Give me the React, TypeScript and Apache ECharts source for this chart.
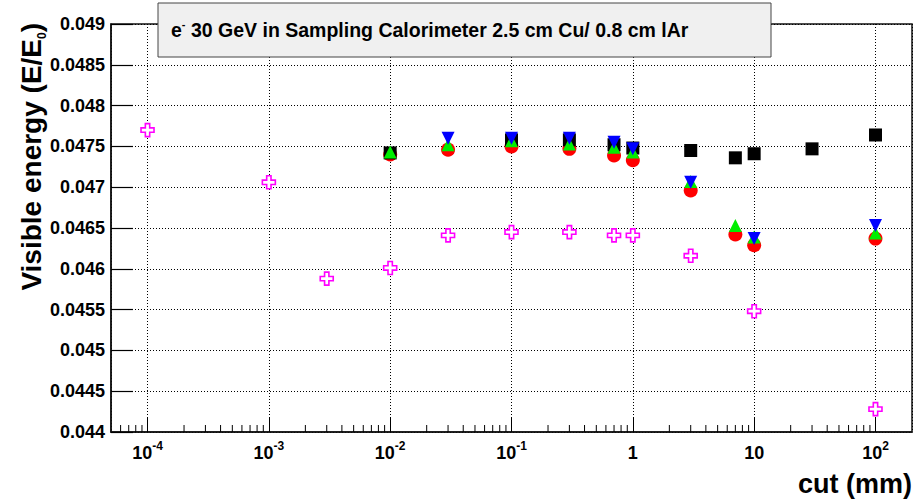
import { useEffect, useRef } from 'react';
import * as echarts from 'echarts';

// Production cut (mm) and visible energy fraction for each configuration
const blackCut = [0.01, 0.1, 0.3, 0.7, 1, 3, 7, 10, 30, 100];
const blackVal = [0.04742, 0.04758, 0.04758, 0.04752, 0.04748, 0.04745, 0.04736, 0.04741, 0.04747, 0.04764];

const redCut = [0.01, 0.03, 0.1, 0.3, 0.7, 1, 3, 7, 10, 100];
const redVal = [0.0474, 0.04746, 0.0475, 0.04747, 0.04739, 0.04733, 0.04696, 0.04642, 0.04629, 0.04637];

const greenCut = [0.01, 0.03, 0.1, 0.3, 0.7, 1, 3, 7, 10, 100];
const greenVal = [0.04743, 0.04752, 0.04757, 0.04753, 0.04749, 0.04743, 0.04707, 0.04653, 0.04639, 0.04644];

const blueCut = [0.03, 0.1, 0.3, 0.7, 1, 3, 10, 100];
const blueVal = [0.0476, 0.0476, 0.0476, 0.04755, 0.04747, 0.04706, 0.04637, 0.04653];

const magentaCut = [1e-4, 1e-3, 3e-3, 1e-2, 3e-2, 0.1, 0.3, 0.7, 1, 3, 10, 100];
const magentaVal = [0.0477, 0.04706, 0.04588, 0.04601, 0.04641, 0.04645, 0.04645, 0.04641, 0.04641, 0.04616, 0.04548, 0.04428];

const xMin = 5e-5;
const xMax = 200;
const yMin = 0.044;
const yMax = 0.049;
const yStep = 0.0005;

const FONT = '"Liberation Sans", Arial, Helvetica, sans-serif';

// minor ticks of the log axis: 2..9 x 10^n inside the axis range
const minorTicks: number[] = [];
for (let e = -5; e <= 2; e++) {
  for (let m = 2; m <= 9; m++) {
    const v = m * Math.pow(10, e);
    if (v > xMin * 1.0001 && v < xMax * 0.9999) minorTicks.push(v);
  }
}

const pairs = (xs: number[], ys: number[]) => xs.map((x, i) => [x, ys[i]]);

const crossPath = 'path://M1,0 L2,0 L2,1 L3,1 L3,2 L2,2 L2,3 L1,3 L1,2 L0,2 L0,1 L1,1 Z';

function xLabel(value: number): string {
  const lg = Math.log10(value);
  const ex = Math.round(lg);
  if (Math.abs(lg - ex) > 1e-6) return '';
  if (ex === 0) return '{b|1}';
  if (ex === 1) return '{b|10}';
  return '{b|10}{s|' + ex + '}';
}

export default function App() {
  const ref = useRef<HTMLDivElement>(null);

  useEffect(() => {
    const chart = echarts.init(ref.current!, null, { renderer: 'svg' });
    const option: any = {
      animation: false,
      backgroundColor: '#ffffff',
      grid: {
        left: 111,
        right: 12,
        top: 24,
        bottom: 69,
        show: true,
        borderColor: '#111',
        borderWidth: 1.5,
        backgroundColor: 'transparent',
      },
      xAxis: {
        type: 'log',
        logBase: 10,
        min: xMin,
        max: xMax,
        axisLine: { show: true, lineStyle: { color: '#111', width: 1.5 } },
        axisTick: { show: true, inside: true, length: 14, lineStyle: { color: '#000', width: 1 } },
        minorTick: { show: false },
        splitLine: { show: true, lineStyle: { color: '#000', width: 1, type: [1, 2] } },
        axisLabel: {
          showMinLabel: false,
          showMaxLabel: false,
          margin: 8,
          color: '#000',
          formatter: xLabel,
          rich: {
            b: { fontFamily: FONT, fontWeight: 'bold', fontSize: 18, lineHeight: 26, color: '#000' },
            s: { fontFamily: FONT, fontWeight: 'bold', fontSize: 12, lineHeight: 12, verticalAlign: 'top', color: '#000' },
          },
        },
      },
      yAxis: {
        type: 'value',
        min: yMin,
        max: yMax,
        interval: yStep,
        axisLine: { show: true, lineStyle: { color: '#111', width: 1.5 } },
        axisTick: { show: true, inside: true, length: 22, lineStyle: { color: '#000', width: 1.2 } },
        splitLine: { show: true, lineStyle: { color: '#000', width: 1, type: [1, 2] } },
        axisLabel: {
          margin: 6,
          color: '#000',
          fontFamily: FONT,
          fontWeight: 'bold',
          fontSize: 18,
          formatter: (v: number) => String(+v.toFixed(4)),
        },
      },
      series: [
        {
          type: 'custom',
          silent: true,
          z: 1,
          data: minorTicks.map((v) => [v, yMin]),
          renderItem: (_p: any, api: any) => {
            const pt = api.coord([api.value(0), api.value(1)]);
            return {
              type: 'line',
              shape: { x1: pt[0], y1: pt[1], x2: pt[0], y2: pt[1] - 7 },
              style: { stroke: '#000', lineWidth: 1 },
            };
          },
        },
        {
          type: 'scatter',
          name: 'red',
          symbol: 'circle',
          symbolSize: 14,
          itemStyle: { color: '#ff0000', opacity: 1 },
          data: pairs(redCut, redVal),
        },
        {
          type: 'scatter',
          name: 'black',
          symbol: 'rect',
          symbolSize: 13,
          itemStyle: { color: '#000000', opacity: 1 },
          data: pairs(blackCut, blackVal),
        },
        {
          type: 'scatter',
          name: 'green',
          symbol: 'triangle',
          symbolSize: 13,
          itemStyle: { color: '#00ee00', opacity: 1 },
          data: pairs(greenCut, greenVal),
        },
        {
          type: 'scatter',
          name: 'blue',
          symbol: 'triangle',
          symbolRotate: 180,
          symbolSize: 13,
          itemStyle: { color: '#0000ff', opacity: 1 },
          data: pairs(blueCut, blueVal),
        },
        {
          type: 'scatter',
          name: 'magenta',
          symbol: crossPath,
          symbolSize: 13,
          itemStyle: { color: '#ffffff', borderColor: '#ff00ff', borderWidth: 1.6, opacity: 1 },
          data: pairs(magentaCut, magentaVal),
        },
      ],
      graphic: [
        {
          type: 'rect',
          z: 100,
          shape: { x: 158, y: 3, width: 613, height: 54 },
          style: { fill: '#f0f0f0', stroke: '#444', lineWidth: 1 },
        },
        {
          type: 'text',
          z: 101,
          x: 171,
          y: 30,
          style: {
            text: 'e{sup|-} 30 GeV in Sampling Calorimeter 2.5 cm Cu/ 0.8 cm lAr',
            fontFamily: FONT,
            fontWeight: 'bold',
            fontSize: 19.5,
            lineHeight: 24,
            fill: '#000',
            verticalAlign: 'middle',
            align: 'left',
            rich: {
              sup: { fontFamily: FONT, fontWeight: 'bold', fontSize: 11, lineHeight: 11, verticalAlign: 'top', fill: '#000' },
            },
          },
        },
        {
          type: 'text',
          z: 101,
          x: 31,
          y: 23,
          rotation: Math.PI / 2,
          style: {
            text: 'Visible energy (E/E{sub|0})',
            fontFamily: FONT,
            fontWeight: 'bold',
            fontSize: 28,
            lineHeight: 34,
            fill: '#000',
            align: 'right',
            verticalAlign: 'middle',
            rich: {
              sub: { fontFamily: FONT, fontWeight: 'bold', fontSize: 12, lineHeight: 20, verticalAlign: 'bottom', fill: '#000' },
            },
          },
        },
        {
          type: 'text',
          z: 101,
          x: 912,
          y: 484,
          style: {
            text: 'cut (mm)',
            fontFamily: FONT,
            fontWeight: 'bold',
            fontSize: 27,
            fill: '#000',
            align: 'right',
            verticalAlign: 'middle',
          },
        },
      ],
    };
    chart.setOption(option);
    return () => chart.dispose();
  }, []);

  return (
    <div
      ref={ref}
      style={{ position: 'absolute', left: 0, top: 0, width: 924, height: 501, background: '#fff' }}
    />
  );
}
